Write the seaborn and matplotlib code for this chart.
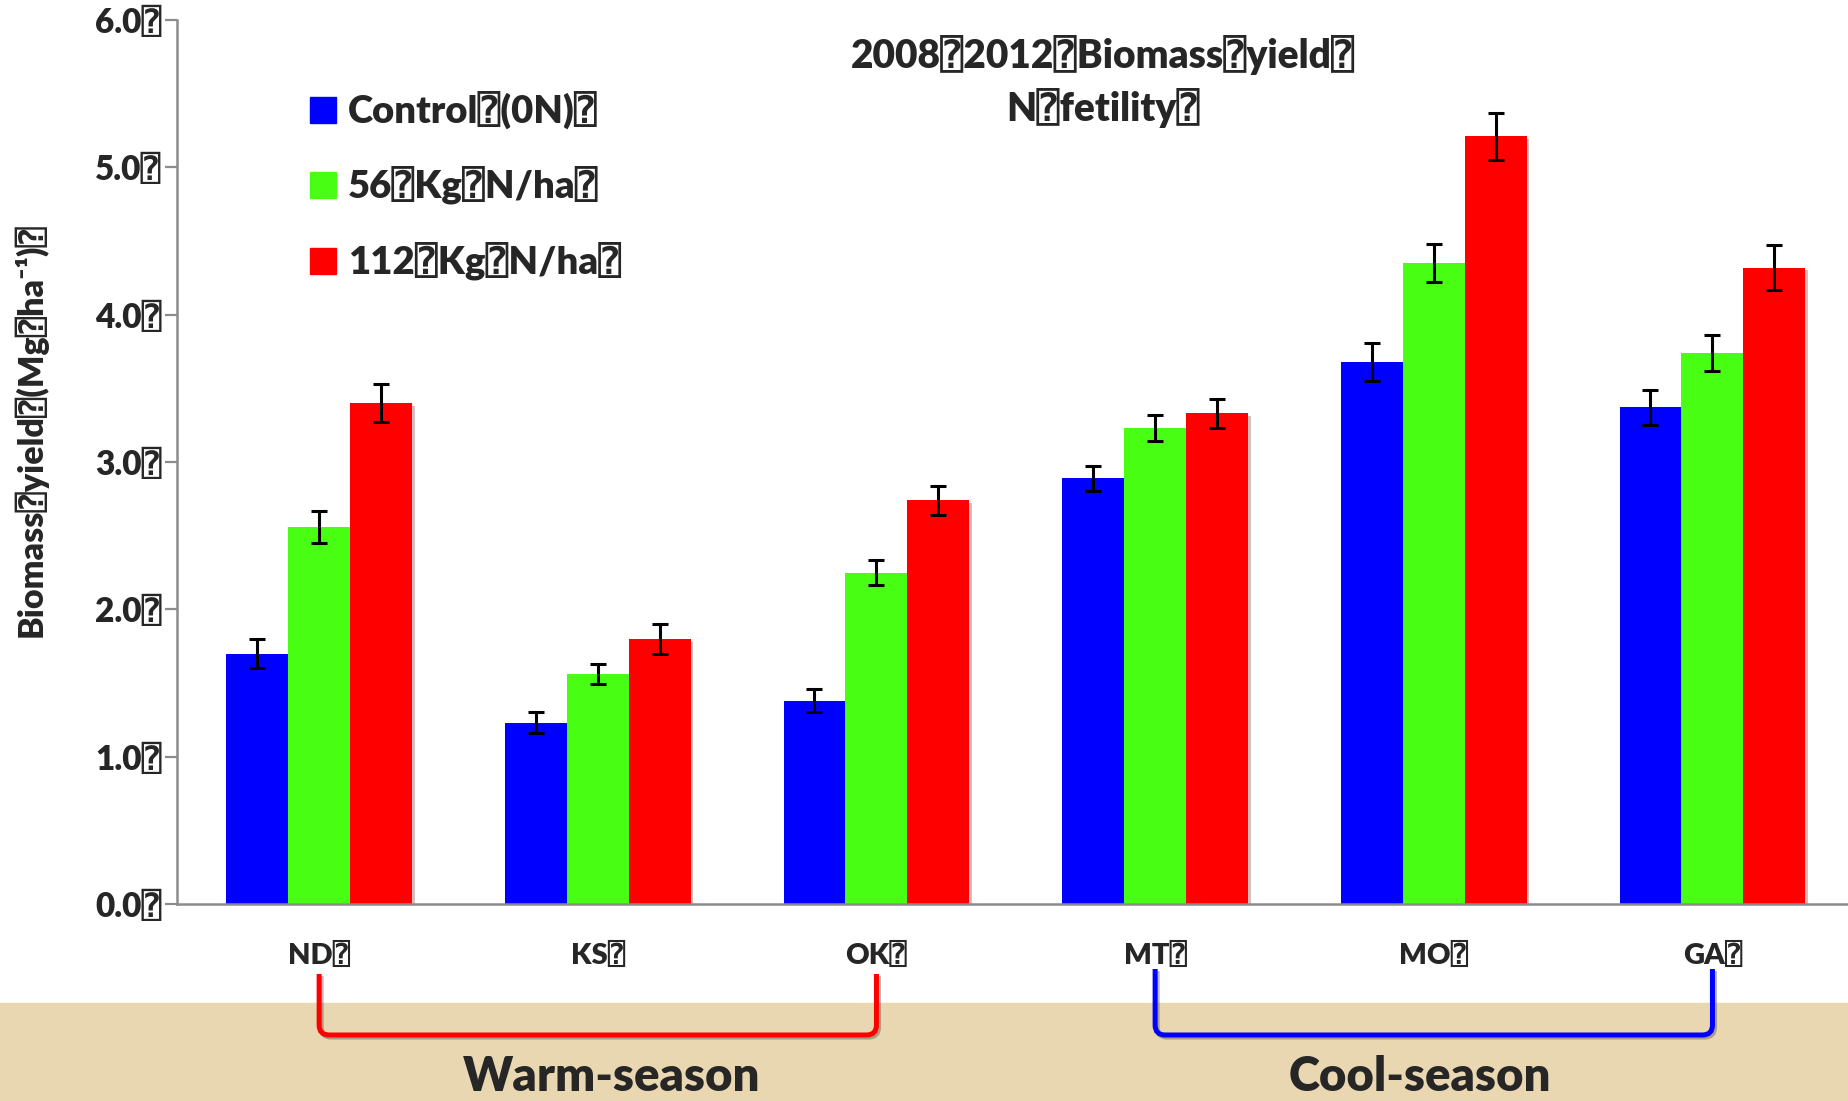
import numpy as np
import pandas as pd
import seaborn as sns
import matplotlib
matplotlib.use("Agg")
import matplotlib.pyplot as plt
from matplotlib.patches import Rectangle, PathPatch
from matplotlib.path import Path
from matplotlib.transforms import IdentityTransform, blended_transform_factory
import matplotlib.patheffects as pe

Q = "\u2370"

# ---- data -------------------------------------------------------------
sites = ["ND", "KS", "OK", "MT", "MO", "GA"]
site_labels = [s + Q for s in sites]
treatments = [f"Control{Q}(0N){Q}", f"56{Q}Kg{Q}N/ha{Q}", f"112{Q}Kg{Q}N/ha{Q}"]

control = [1.70, 1.23, 1.38, 2.89, 3.68, 3.37]
n56 = [2.56, 1.56, 2.25, 3.23, 4.35, 3.74]
n112 = [3.40, 1.80, 2.74, 3.33, 5.21, 4.32]

control_err = [0.10, 0.07, 0.08, 0.085, 0.13, 0.12]
n56_err = [0.11, 0.07, 0.085, 0.09, 0.13, 0.12]
n112_err = [0.13, 0.10, 0.10, 0.10, 0.16, 0.155]

yticks = [0, 1, 2, 3, 4, 5, 6]
ytick_labels = [f"{v:.1f}{Q}" for v in yticks]

title_lines = [f"2008{Q}2012{Q}Biomass{Q}yield{Q}", f"N{Q}fetility{Q}"]
ylabel = f"Biomass{Q}yield{Q}(Mg{Q}ha\u207b\u00b9){Q}"
groups = [("Warm-season", "ND", "OK", "#FF0000"), ("Cool-season", "MT", "GA", "#0000FF")]

colors = ["#0000FF", "#48FF14", "#FF0000"]

df = pd.DataFrame({
    "site": sites * 3,
    "treatment": np.repeat(treatments, len(sites)),
    "yield": control + n56 + n112,
})

# ---- style ------------------------------------------------------------
sns.set_theme(style="white")
plt.rcParams["font.family"] = ["Lato", "DejaVu Sans", "DejaVu Sans Mono"]
WEIGHT = "heavy"
plt.rcParams["font.weight"] = WEIGHT

W, H = 1849, 1101
fig = plt.figure(figsize=(W / 100, H / 100), dpi=100, facecolor="white")
ax = fig.add_axes([177 / W, 1 - 904 / H, 1 - 177 / W, 884 / H])

shadow = [pe.SimplePatchShadow(offset=(2, -2), alpha=0.25), pe.Normal()]

sns.barplot(data=df, x="site", y="yield", hue="treatment", order=sites,
            hue_order=treatments, palette=colors, width=0.667, saturation=1,
            errorbar=None, legend=False, linewidth=0, ax=ax)

for cont, errs in zip(ax.containers, [control_err, n56_err, n112_err]):
    xs, ys = [], []
    for p in cont:
        p.set_path_effects(shadow)
        xs.append(p.get_x() + p.get_width() / 2)
        ys.append(p.get_height())
    ax.errorbar(xs, ys, yerr=errs, fmt="none", ecolor="black",
                elinewidth=2.2, capsize=5.5, capthick=2.2, zorder=5)

ax.set_xlim(-0.51, 5.49)
ax.set_ylim(0, 6)
ax.set_yticks(yticks, ytick_labels)
ax.set_xticks(range(len(sites)), site_labels)
ax.set_xlabel("")
ax.set_ylabel("")
ax.tick_params(axis="y", length=9, width=1.6, color="#8C8C8C", pad=2,
               labelsize=24, left=True, direction="out")
ax.tick_params(axis="x", length=0, pad=27, labelsize=21)
for lab in ax.get_xticklabels() + ax.get_yticklabels():
    lab.set_fontweight(WEIGHT)
for s in ["top", "right"]:
    ax.spines[s].set_visible(False)
for s in ["left", "bottom"]:
    ax.spines[s].set_color("#8C8C8C")
    ax.spines[s].set_linewidth(1.8)
ax.grid(False)

# title
fig.text(1103 / W, 1 - 55 / H, title_lines[0], ha="center", va="center",
         fontsize=28, fontweight=WEIGHT)
fig.text(1103 / W, 1 - 108 / H, title_lines[1], ha="center", va="center",
         fontsize=28, fontweight=WEIGHT)

# y label
fig.text(30 / W, 1 - 430 / H, ylabel, rotation=90, ha="center", va="center",
         fontsize=24.5, fontweight=WEIGHT)

# legend
for i, (lab, c) in enumerate(zip(treatments, colors)):
    yc = [110, 185, 261][i]
    fig.add_artist(Rectangle((310 / W, 1 - (yc + 13) / H), 26 / W, 26 / H,
                             transform=fig.transFigure, color=c))
    fig.text(348 / W, 1 - yc / H, lab, ha="left", va="center",
             fontsize=27.5, fontweight=WEIGHT)

# parchment band along the bottom
fig.add_artist(Rectangle((0, 0), 1, 98 / H, transform=fig.transFigure,
                         color="#E9D7B2", zorder=0))

# group brackets
r = 10
for i, (name, a, b, col) in enumerate(groups):
    x0 = ax.transData.transform((sites.index(a), 0))[0]
    x1 = ax.transData.transform((sites.index(b), 0))[0]
    yt = H - (974 if i == 0 else 969)
    yb = H - 1035
    verts = [(x0, yt), (x0, yb + r), (x0, yb), (x0 + r, yb), (x1 - r, yb),
             (x1, yb), (x1, yb + r), (x1, yt)]
    codes = [Path.MOVETO, Path.LINETO, Path.CURVE3, Path.CURVE3, Path.LINETO,
             Path.CURVE3, Path.CURVE3, Path.LINETO]
    patch = PathPatch(Path(verts, codes), fill=False, edgecolor=col, lw=3.6,
                      transform=IdentityTransform(), capstyle="butt", zorder=3)
    patch.set_path_effects([pe.SimpleLineShadow(offset=(1.5, -1.5), alpha=0.3),
                            pe.Normal()])
    fig.add_artist(patch)

trans = blended_transform_factory(ax.transData, fig.transFigure)
for (name, a, b, col), xc in zip(groups, [1.05, 3.95]):
    fig.text(xc, 10 / H, name, transform=trans, ha="center", va="baseline",
             fontsize=34, fontweight=WEIGHT, zorder=4)

fig.savefig("out.png", dpi=100)
